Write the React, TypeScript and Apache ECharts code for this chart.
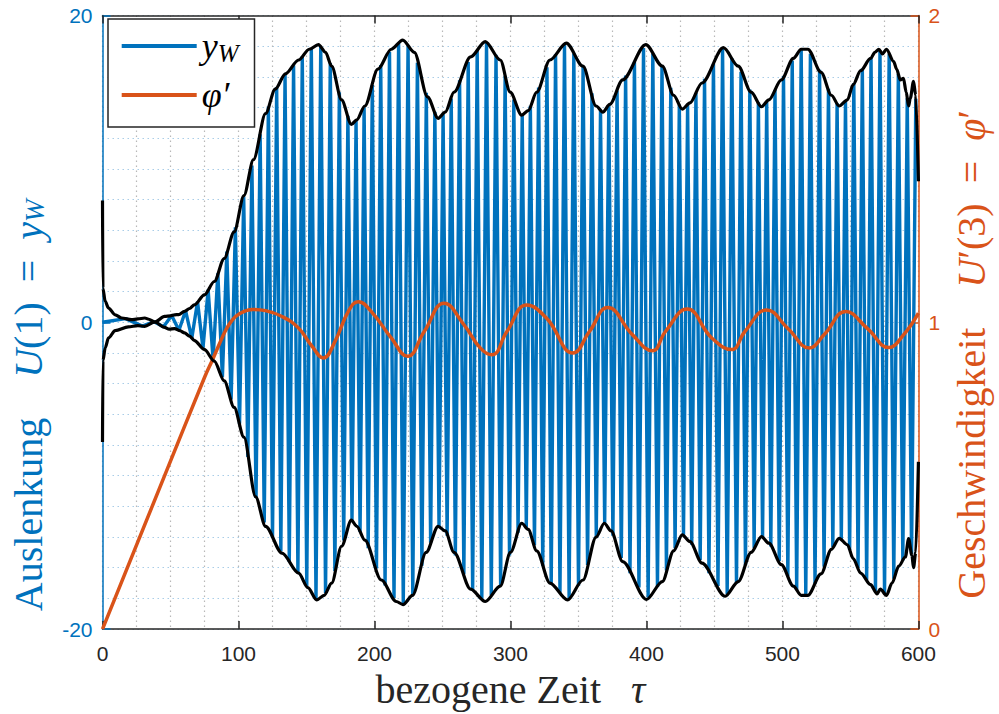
import React, { useEffect, useRef } from "react";
import * as echarts from "echarts";

// ---- data ----
// rotational speed phi' (right axis), [tau, value]
const phiPrime: [number, number][] = [
  [0, 0], [75, 0.82], [81, 0.879], [86, 0.93],
  [90.7, 0.975], [95, 1.005], [100.4, 1.027], [110.1, 1.042], [119.9, 1.038], [132, 1.019],
  [144.2, 0.981], [154, 0.922], [162.4, 0.884], [171, 0.938], [180.7, 1.035], [188, 1.067],
  [197.7, 1.035], [212.3, 0.949], [224.4, 0.889], [236.6, 0.97], [251.2, 1.062], [265.8, 0.992],
  [277.9, 0.916], [286.4, 0.894], [297.4, 0.97], [312, 1.056], [326.6, 1.013], [346, 0.9],
  [358.1, 0.97], [371.5, 1.048], [389.8, 0.959], [404.4, 0.907], [414, 0.97], [429.9, 1.043],
  [448, 0.949], [462.7, 0.911], [472.4, 0.97], [488.3, 1.04], [504, 0.98], [519.8, 0.916],
  [530.7, 0.96], [546.6, 1.035], [562.4, 0.98], [578.2, 0.918], [589.2, 0.96], [600, 1.03],
];

// black envelope curve starting at +8 (becomes the lower envelope after tau ~ 38)
const envelopeA: [number, number][] = [
  [0, 7.94], [0.3, 2.22], [2, 1.36], [4.4, 0.93], [9.3, 0.49], [14.1, 0.28], [21.4, 0.17],
  [26, 0.22], [31.1, 0.28], [34, 0.2], [38.4, 0.02], [45.7, -0.33], [49, -0.45], [53, -0.41],
  [57, -0.55], [60.3, -0.69], [64, -0.9], [67.6, -1.19], [74.9, -1.77], [82.2, -2.53],
  [89.5, -3.82], [96.8, -5.55], [104, -7.49], [112.6, -11.38], [119.9, -13.3], [132, -15.05],
  [144.2, -16.35], [151, -17.3], [157.5, -18.1], [163, -17.8], [168.5, -17.0], [175.8, -14.6],
  [183, -12.9], [187, -13.3], [192.9, -14.2], [205, -16.8], [216, -18.2], [221, -18.4],
  [228, -17.8], [238, -15.0], [246.8, -13.3], [252, -13.6], [258.5, -15.0], [270.7, -17.4],
  [281.5, -18.2], [292.5, -17.2], [300, -15.0], [308.3, -13.1], [313, -13.5], [319.3, -14.9],
  [329, -17.0], [342, -18.1], [353.3, -16.8], [363, -14.0], [369, -13.1], [374, -13.6],
  [382.5, -15.6], [400, -18.07], [411.7, -16.9], [420, -14.9], [426.3, -13.86], [432, -14.3],
  [440.8, -15.7], [457.9, -17.86], [467.5, -16.9], [477, -15.0], [484.6, -13.97], [490, -14.4],
  [499.2, -15.8], [508, -17.2], [513.8, -17.8], [518.7, -17.8], [528.4, -16.4], [536, -14.8],
  [541.7, -14.08], [547.8, -14.5], [552, -15.4], [557.5, -16.35], [564.8, -17.1], [569.6, -17.7],
  [572, -17.4], [576.5, -17.8], [580.6, -17.0], [585.5, -15.9], [590.4, -15.3], [592.8, -14.1],
  [595.2, -15.2], [596.4, -16.0], [598, -15.0], [600, -9.1],
];

// black envelope curve starting at -8 (becomes the upper envelope after tau ~ 38)
const envelopeB: [number, number][] = [
  [0, -7.8], [0.3, -2.5], [2, -1.66], [4.4, -1.02], [9.3, -0.54], [19, -0.3], [26, -0.22],
  [31, -0.26], [38.4, 0.02], [45.7, 0.39], [50, 0.42], [53, 0.49], [56, 0.5], [60.3, 0.71],
  [64, 0.9], [67.6, 1.14], [74.9, 1.79], [82.2, 2.66], [89.5, 4.16], [96.8, 5.89], [104, 8.26],
  [111, 10.6], [119.9, 13.6], [127, 15.2], [134.5, 16.2], [144.2, 17.1], [152, 17.8],
  [158.8, 18.1], [164, 17.6], [168.5, 16.7], [175.8, 14.5], [183, 12.9], [187, 13.2],
  [192.9, 14.1], [202.5, 16.5], [212.3, 17.8], [220.8, 18.4], [229.3, 17.6], [239, 14.7],
  [246.8, 13.3], [252, 13.7], [258.5, 15.0], [270.7, 17.3], [281.5, 18.3], [292.5, 17.1],
  [299.8, 15.0], [308.3, 13.5], [313, 13.8], [319.3, 15.0], [329, 17.1], [341.1, 18.2],
  [353.3, 16.7], [363, 14.1], [367.9, 13.7], [373, 14.2], [382.5, 15.8], [399.5, 18.1],
  [411.7, 16.7], [420, 14.8], [426.3, 13.9], [432, 14.3], [440.8, 15.6], [456.6, 17.9],
  [467.5, 16.7], [477, 15.0], [484.6, 14.05], [490, 14.5], [499.2, 15.8], [508, 17.2],
  [513.8, 17.8], [518.7, 17.8], [528.4, 16.3], [536, 14.8], [541.7, 14.1], [547.8, 14.5],
  [552, 15.5], [557.5, 16.4], [564.8, 17.2], [568, 17.6], [570.9, 17.8], [573.5, 17.5],
  [576.5, 17.8], [581.8, 17.0], [584, 16.5], [586.7, 15.8], [589, 15.9], [591, 15.0],
  [592.8, 14.1], [594, 14.6], [596.4, 15.7], [598, 14.8], [600, 9.2],
];

const xTickLabels = ["0", "100", "200", "300", "400", "500", "600"];
const leftTickLabels = ["-20", "0", "20"];
const rightTickLabels = ["0", "1", "2"];

const BLUE = "#0072BD";
const ORANGE = "#D95319";
const SERIF = "'Liberation Serif', 'DejaVu Serif', serif";
const SANS = "'Liberation Sans', Arial, Helvetica, sans-serif";

function interp(pts: [number, number][], t: number): number {
  if (t <= pts[0][0]) return pts[0][1];
  for (let i = 1; i < pts.length; i++) {
    if (t <= pts[i][0]) {
      const [t0, v0] = pts[i - 1];
      const [t1, v1] = pts[i];
      return v0 + ((v1 - v0) * (t - t0)) / (t1 - t0);
    }
  }
  return pts[pts.length - 1][1];
}

// y_W oscillates with the phase phi (integral of phi') between the two envelopes:
// its turning points are placed where phi passes pi/2 + k*pi.
function buildYW(): [number, number][] {
  const out: [number, number][] = [[0, 0]];
  let phi = 0;
  let target = Math.PI / 2;
  let sign = 1;
  const dt = 0.02;
  for (let t = 0; t < 600; t += dt) {
    const next = phi + 0.5 * (interp(phiPrime, t) + interp(phiPrime, t + dt)) * dt;
    while (next >= target) {
      const tc = t + (dt * (target - phi)) / (next - phi);
      const a = interp(envelopeA, tc);
      const b = interp(envelopeB, tc);
      out.push([tc, sign > 0 ? Math.max(a, b) : Math.min(a, b)]);
      sign = -sign;
      target += Math.PI;
    }
    phi = next;
  }
  return out;
}

export default function App() {
  const ref = useRef<HTMLDivElement>(null);
  useEffect(() => {
    if (!ref.current) return;
    const chart = echarts.init(ref.current, undefined, { renderer: "svg" });
    const yw = buildYW();
    const dotted = [1.5, 3.5];
    const italic = (size: number, color: string) => ({
      fontFamily: SERIF,
      fontStyle: "italic",
      fontSize: size,
      color,
    });
    chart.setOption({
      animation: false,
      backgroundColor: "#ffffff",
      grid: { left: 102.3, right: 75.5, top: 15.5, bottom: 81, containLabel: false },
      legend: {
        data: ["yW", "φ′"],
        orient: "vertical",
        left: 108,
        top: 19,
        padding: [9, 16, 14, 13.7],
        itemWidth: 75,
        itemHeight: 4,
        itemGap: 11,
        icon: "rect",
        backgroundColor: "#ffffff",
        borderColor: "#262626",
        borderWidth: 1.5,
        borderRadius: 0,
        formatter: (name: string) => (name === "yW" ? "{m|y}{s|W}" : "{m|φ′}"),
        textStyle: {
          fontFamily: SERIF,
          fontSize: 36,
          color: "#000",
          rich: {
            m: { ...italic(36, "#000"), lineHeight: 40 },
            s: { ...italic(25, "#000"), lineHeight: 40, verticalAlign: "bottom", padding: [12, 0, 0, 0] },
          },
        },
      },
      xAxis: [
        {
          type: "value",
          min: 0,
          max: 600,
          interval: 100,
          position: "bottom",
          name: "bezogene Zeit   {i|τ}",
          nameLocation: "middle",
          nameGap: 33,
          nameTextStyle: {
            fontFamily: SERIF,
            fontSize: 40,
            color: "#262626",
            rich: { i: italic(40, "#262626") },
          },
          axisLine: { show: true, onZero: false, lineStyle: { color: "#262626", width: 1.5 } },
          axisTick: { show: true, inside: true, length: 8, lineStyle: { color: "#262626", width: 1.5 } },
          minorTick: { show: false, splitNumber: 4 },
          axisLabel: {
            fontFamily: SANS,
            fontSize: 21,
            color: "#262626",
            margin: 14,
            formatter: (v: number) => xTickLabels[Math.round(v / 100)] ?? "",
          },
          splitLine: { show: true, lineStyle: { color: "#b8b8b8", width: 1.2, type: dotted } },
          minorSplitLine: { show: true, lineStyle: { color: "#b8b8b8", width: 1.2, type: dotted } },
        },
        {
          type: "value",
          min: 0,
          max: 600,
          interval: 100,
          position: "top",
          axisLine: { show: true, onZero: false, lineStyle: { color: "#262626", width: 1.5 } },
          axisTick: { show: true, inside: true, length: 8, lineStyle: { color: "#262626", width: 1.5 } },
          axisLabel: { show: false },
          splitLine: { show: false },
        },
      ],
      yAxis: [
        {
          type: "value",
          min: -20,
          max: 20,
          interval: 20,
          position: "left",
          name: "Auslenkung    {i|U}(1)  =  {i|y}{s|W}",
          nameLocation: "middle",
          nameRotate: 90,
          nameGap: 54,
          nameTextStyle: {
            fontFamily: SERIF,
            fontSize: 40,
            color: BLUE,
            padding: [0, 166, 0, 0],
            rich: {
              i: italic(40, BLUE),
              s: { ...italic(27, BLUE), verticalAlign: "bottom", padding: [14, 0, 0, 0] },
            },
          },
          axisLine: { show: true, onZero: false, lineStyle: { color: BLUE, width: 1.5 } },
          axisTick: { show: true, inside: true, length: 8, lineStyle: { color: BLUE, width: 1.5 } },
          minorTick: { show: false, splitNumber: 10 },
          axisLabel: {
            fontFamily: SANS,
            fontSize: 21,
            color: BLUE,
            margin: 10,
            formatter: (v: number) => leftTickLabels[Math.round((v + 20) / 20)] ?? "",
          },
          splitLine: { show: true, lineStyle: { color: "#a9cde8", width: 1.2, type: dotted } },
          minorSplitLine: { show: true, lineStyle: { color: "#a9cde8", width: 1.2, type: dotted } },
        },
        {
          type: "value",
          min: 0,
          max: 2,
          interval: 1,
          position: "right",
          name: "Geschwindigkeit    {i|U}′(3)  =  {i|φ}′",
          nameLocation: "middle",
          nameRotate: 90,
          nameGap: 24,
          nameTextStyle: {
            fontFamily: SERIF,
            fontSize: 40,
            color: ORANGE,
            padding: [0, 64, 0, 0],
            rich: { i: italic(40, ORANGE) },
          },
          axisLine: { show: true, onZero: false, lineStyle: { color: ORANGE, width: 1.5 } },
          axisTick: { show: true, inside: true, length: 8, lineStyle: { color: ORANGE, width: 1.5 } },
          axisLabel: {
            fontFamily: SANS,
            fontSize: 21,
            color: ORANGE,
            margin: 10,
            formatter: (v: number) => rightTickLabels[Math.round(v)] ?? "",
          },
          splitLine: { show: false },
        },
      ],
      series: [
        {
          name: "yW",
          type: "line",
          xAxisIndex: 0,
          yAxisIndex: 0,
          data: yw,
          symbol: "none",
          lineStyle: { color: BLUE, width: 3.4 },
          itemStyle: { color: BLUE },
          z: 2,
        },
        {
          name: "φ′",
          type: "line",
          xAxisIndex: 0,
          yAxisIndex: 1,
          data: phiPrime,
          symbol: "none",
          smooth: 0.45,
          lineStyle: { color: ORANGE, width: 3.5 },
          itemStyle: { color: ORANGE },
          z: 3,
        },
        {
          name: "envA",
          type: "line",
          xAxisIndex: 0,
          yAxisIndex: 0,
          data: envelopeA,
          symbol: "none",
          smooth: 0.3,
          smoothMonotone: "x",
          lineStyle: { color: "#000", width: 3.2 },
          itemStyle: { color: "#000" },
          z: 4,
        },
        {
          name: "envB",
          type: "line",
          xAxisIndex: 0,
          yAxisIndex: 0,
          data: envelopeB,
          symbol: "none",
          smooth: 0.3,
          smoothMonotone: "x",
          lineStyle: { color: "#000", width: 3.2 },
          itemStyle: { color: "#000" },
          z: 4,
        },
      ],
    });
    return () => chart.dispose();
  }, []);
  return (
    <div
      ref={ref}
      style={{ position: "fixed", left: 0, top: 0, width: 999, height: 714, background: "#fff" }}
    />
  );
}
